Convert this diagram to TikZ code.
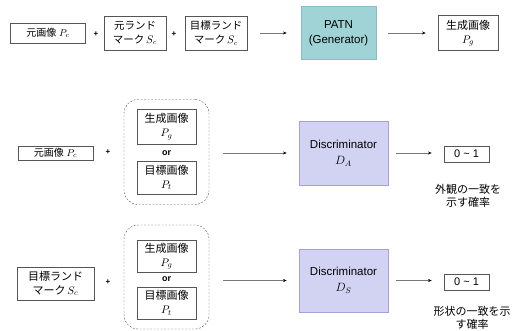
\documentclass[tikz,border=0pt]{standalone}
\usepackage{fontspec}
\setsansfont{Liberation Sans}
\newfontfamily\jp{Noto Sans CJK JP}
\usepackage{xcolor}
\usepackage{tikz}
\usetikzlibrary{arrows.meta, positioning}

\definecolor{boxline}{HTML}{555555}
\definecolor{arrline}{HTML}{777777}
\definecolor{genfill}{HTML}{9FD3D6}
\definecolor{genline}{HTML}{86BFC3}
\definecolor{discfill}{HTML}{D2D2F3}
\definecolor{discline}{HTML}{A3A1DE}

\begin{document}
\begin{tikzpicture}[x=1pt, y=-1pt,
    box/.style={draw=boxline, line width=0.8pt, fill=white, inner sep=0pt, align=center,
        font=\sffamily\fontsize{10.5}{14}\selectfont},
    gen/.style={draw=genline, fill=genfill, line width=0.8pt, minimum width=75pt, minimum height=53pt,
        align=center, font=\sffamily\fontsize{11.5}{15}\selectfont},
    disc/.style={draw=discline, fill=discfill, line width=0.8pt, minimum width=89pt, minimum height=64pt,
        align=center, font=\sffamily\fontsize{11.5}{16}\selectfont},
    pick/.style={draw=boxline, dash pattern=on 2pt off 1.5pt, rounded corners=14pt,
        minimum width=85pt, minimum height=105pt},
    plus/.style={font=\sffamily\bfseries\fontsize{8}{8}\selectfont},
    orsep/.style={font=\sffamily\bfseries\fontsize{9}{9}\selectfont},
    flow/.style={draw=arrline, -{Stealth[length=3.5pt, width=3pt, black]}, shorten <=12pt, shorten >=12pt},
    note/.style={align=center, font=\jp\fontsize{11}{13}\selectfont}]
    \useasboundingbox (0,0) rectangle (514,331);

    % generator row
    \node[box, minimum width=75pt, minimum height=20pt, font=\sffamily\fontsize{10}{12}\selectfont] (src) at (48,33) {{\jp 元画像} $P_c$};
    \node[plus] (plusA) at (96,34) {+};
    \node[box, minimum width=62pt, minimum height=34pt] (lmS) at (135,33) {{\jp 元ランド}\\{\jp マーク}\,$S_c$};
    \node[plus] (plusB) at (174,34) {+};
    \node[box, minimum width=62pt, minimum height=34pt] (lmT) at (216,33) {{\jp 目標ランド}\\{\jp マーク}\,$S_c$};
    \node[gen] (gen) at (338.5,33) {PATN\\(Generator)};
    \node[box, minimum width=60pt, minimum height=35pt, font=\sffamily\fontsize{11}{14}\selectfont] (outG) at (468,33) {{\jp 生成画像}\\$P_g$};

    \draw[flow, shorten <=13pt, shorten >=14pt] (lmT) -- (gen);
    \draw[flow] (gen) -- (outG);

    % appearance discriminator row
    \node[box, minimum width=75pt, minimum height=14pt, font=\sffamily\fontsize{10}{11}\selectfont] (src2) at (55.5,153) {{\jp 元画像} $P_c$};
    \node[plus] (plusC) at (108,152) {+};
    \node[pick] (pickA) at (166.5,152) {};
    \node[box, minimum width=59pt, minimum height=35pt, font=\sffamily\fontsize{11}{14}\selectfont] (genA) at (166.5,126.5) {{\jp 生成画像}\\$P_g$};
    \node[orsep] (orA) at (166.5,153) {or};
    \node[box, minimum width=59pt, minimum height=33pt, font=\sffamily\fontsize{11}{14}\selectfont] (tgtA) at (166.5,177.5) {{\jp 目標画像}\\$P_t$};
    \node[disc] (discA) at (343.5,153) {Discriminator\\$D_A$};
    \node[box, minimum width=45pt, minimum height=16pt, font=\sffamily\fontsize{11}{13}\selectfont] (scoreA) at (466.5,154) {0 \textasciitilde{} 1};
    \node[note] (noteA) at (468,196) {外観の一致を\\示す確率};

    \draw[flow, shorten <=14pt] (pickA.east |- discA.west) -- (discA.west);
    \draw[flow, shorten <=8pt] (discA.east) -- (discA.east -| scoreA.west);

    % shape discriminator row
    \node[box, minimum width=77pt, minimum height=33pt, font=\sffamily\fontsize{11}{14}\selectfont] (lm2) at (55.5,283.5) {{\jp 目標ランド}\\{\jp マーク}\,$S_c$};
    \node[plus] (plusD) at (108,282) {+};
    \node[pick, minimum height=104pt] (pickS) at (166.5,277) {};
    \node[box, minimum width=59pt, minimum height=32pt, font=\sffamily\fontsize{11}{14}\selectfont] (genS) at (166.5,256) {{\jp 生成画像}\\$P_g$};
    \node[orsep] (orS) at (166.5,279.5) {or};
    \node[box, minimum width=59pt, minimum height=32pt, font=\sffamily\fontsize{11}{14}\selectfont] (tgtS) at (166.5,303) {{\jp 目標画像}\\$P_t$};
    \node[disc, minimum height=63pt] (discS) at (343.5,280.5) {Discriminator\\$D_S$};
    \node[box, minimum width=45pt, minimum height=16pt, font=\sffamily\fontsize{11}{13}\selectfont] (scoreS) at (466.5,282) {0 \textasciitilde{} 1};
    \node[note] (noteS) at (472,317.5) {形状の一致を示\\す確率};

    \draw[flow, shorten <=14pt] (pickS.east |- discS.west) -- (discS.west);
    \draw[flow, shorten <=8pt] (discS.east) -- (discS.east -| scoreS.west);
\end{tikzpicture}
\end{document}
